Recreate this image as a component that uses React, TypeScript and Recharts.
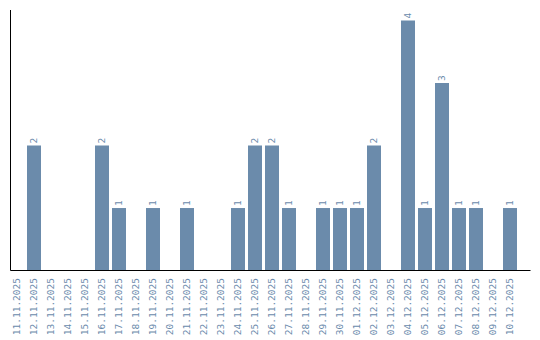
import React from "react";
import { BarChart, Bar, XAxis, YAxis, LabelList } from "recharts";

const dates = [
  "11.11.2025", "12.11.2025", "13.11.2025", "14.11.2025", "15.11.2025",
  "16.11.2025", "17.11.2025", "18.11.2025", "19.11.2025", "20.11.2025",
  "21.11.2025", "22.11.2025", "23.11.2025", "24.11.2025", "25.11.2025",
  "26.11.2025", "27.11.2025", "28.11.2025", "29.11.2025", "30.11.2025",
  "01.12.2025", "02.12.2025", "03.12.2025", "04.12.2025", "05.12.2025",
  "06.12.2025", "07.12.2025", "08.12.2025", "09.12.2025", "10.12.2025",
];

const counts = [
  0, 2, 0, 0, 0, 2, 1, 0, 1, 0,
  1, 0, 0, 1, 2, 2, 1, 0, 1, 1,
  1, 2, 0, 4, 1, 3, 1, 1, 0, 1,
];

const data = dates.map((d, i) => ({ date: d, count: counts[i] }));

const BAR_COLOR = "#6b8bab";
const TEXT_COLOR = "#6a8aab";
const FONT = "'DejaVu Sans Mono', monospace";

const DateTick = (props: any) => {
  const { x, y, payload } = props;
  return (
    <text
      x={x}
      y={y}
      transform={`rotate(-90, ${x}, ${y})`}
      textAnchor="end"
      dominantBaseline="central"
      fill={TEXT_COLOR}
      fontSize={9.5}
      fontFamily={FONT}
    >
      {payload.value}
    </text>
  );
};

const ValueLabel = (props: any) => {
  const { x, y, width, value } = props;
  if (!value) return null;
  const cx = x + width / 2;
  const cy = y - 2;
  return (
    <text
      x={cx}
      y={cy}
      transform={`rotate(-90, ${cx}, ${cy})`}
      textAnchor="start"
      dominantBaseline="central"
      fill={TEXT_COLOR}
      fontSize={9.5}
      fontFamily={FONT}
    >
      {value}
    </text>
  );
};

export default function App() {
  return (
    <div style={{ position: "absolute", left: 0, top: 0 }}>
      <BarChart
        width={540}
        height={340}
        data={data}
        margin={{ top: 10, right: 9.5, left: 9.5, bottom: 0 }}
        barSize={14}
      >
        <XAxis
          dataKey="date"
          interval={0}
          height={69.5}
          tickLine={false}
          tickSize={0}
          tickMargin={7.5}
          padding={{ left: -2.5, right: 12.5 }}
          axisLine={{ stroke: "#000" }}
          tick={<DateTick />}
        />
        <YAxis
          width={1}
          domain={[0, 4.17]}
          type="number"
          tick={false}
          tickLine={false}
          axisLine={{ stroke: "#000" }}
        />
        <Bar dataKey="count" fill={BAR_COLOR} isAnimationActive={false}>
          <LabelList dataKey="count" content={<ValueLabel />} />
        </Bar>
      </BarChart>
    </div>
  );
}
